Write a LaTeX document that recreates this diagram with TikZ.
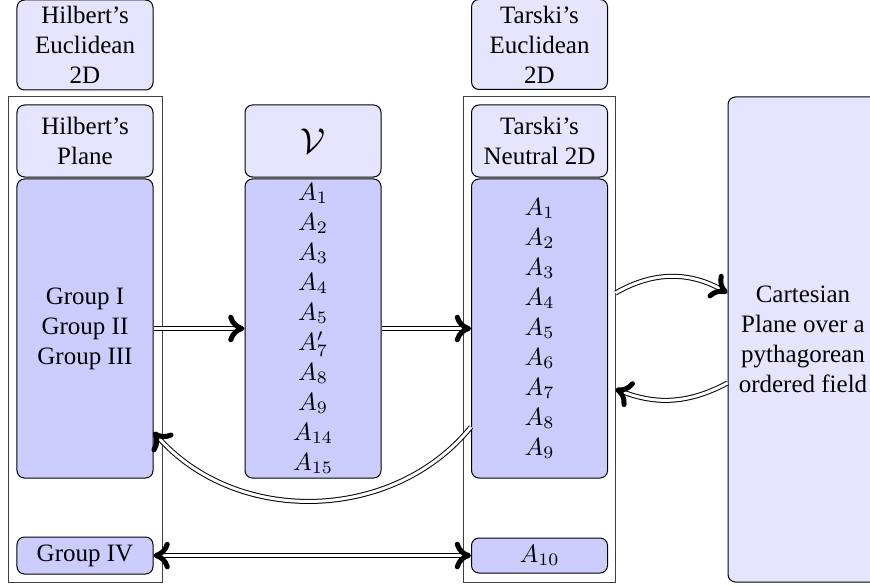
\documentclass[tikz,border=0pt]{standalone}
\usepackage{fontspec}
\setmainfont{Liberation Serif}
\usepackage{amsmath}
\usepackage{amssymb}
\usetikzlibrary{arrows.meta}

\begin{document}
\begin{tikzpicture}[x=0.4pt,y=-0.4pt,
  lbox/.style={draw,rounded corners=3pt,fill=blue!10,align=center,inner sep=0pt,minimum width=54.4pt},
  dbox/.style={draw,rounded corners=3pt,fill=blue!20,align=center,inner sep=0pt,minimum width=54.4pt},
  frame/.style={draw=black!75,inner sep=0pt},
  hook/.tip={Computer Modern Rightarrow[length=6.5pt,width=11pt,line width=2pt,round]},
  imp/.style={double,double distance=1.2pt,-hook}]
\useasboundingbox (0,0) rectangle (870,585);
\node[frame,minimum width=61.2pt,minimum height=194pt] (hfr) at (85.5,339.5) {};
\node[frame,minimum width=60.8pt,minimum height=194pt] (tfr) at (539,339.5) {};
\node[lbox,minimum height=36pt] (heuc) at (85,45) {Hilbert's\\Euclidean\\2D};
\node[lbox,minimum height=28.8pt] (hpl) at (85,141) {Hilbert's\\Plane};
\node[dbox,minimum height=119.6pt] (hgrp) at (85,328.5) {Group I\\Group II\\Group III};
\node[dbox,minimum height=14.8pt] (hiv) at (85,555.5) {Group IV};
\node[lbox,minimum height=28.8pt] (vtop) at (313,141) {\Large$\mathcal{V}$};
\node[dbox,minimum height=119.6pt] (vax) at (313,328.5) {$A_1$\\$A_2$\\$A_3$\\$A_4$\\$A_5$\\$A'_7$\\$A_8$\\$A_9$\\$A_{14}$\\$A_{15}$};
\node[lbox,minimum height=36pt] (teuc) at (539.5,44.5) {Tarski's\\Euclidean\\2D};
\node[lbox,minimum height=28.8pt] (tn) at (539.5,141) {Tarski's\\Neutral 2D};
\node[dbox,minimum height=119.6pt] (tax) at (539.5,328.5) {$A_1$\\$A_2$\\$A_3$\\$A_4$\\$A_5$\\$A_6$\\$A_7$\\$A_8$\\$A_9$};
\node[dbox,minimum height=14pt] (tten) at (539.5,555.5) {$A_{10}$};
\node[lbox,minimum width=60pt,minimum height=194pt] (cart) at (803,339.5) {Cartesian\\Plane over a\\pythagorean\\ordered field};
\draw[imp] (hgrp.east) -- (vax.west); \draw[imp] (vax.east) -- (tax.west);
\draw[imp] ([yshift=18.6pt]tfr.east) to[bend left=30] ([yshift=18.6pt]cart.west);
\draw[imp] ([yshift=-17.4pt]cart.west) to[bend left=25] ([yshift=-19.8pt]tfr.east);
\draw[imp] ([yshift=-39.4pt]tax.west) to[bend left=50] ([yshift=-41.4pt]hgrp.east);
\draw[imp,hook-hook] (hiv.east) -- (tten.west);
\end{tikzpicture}
\end{document}
